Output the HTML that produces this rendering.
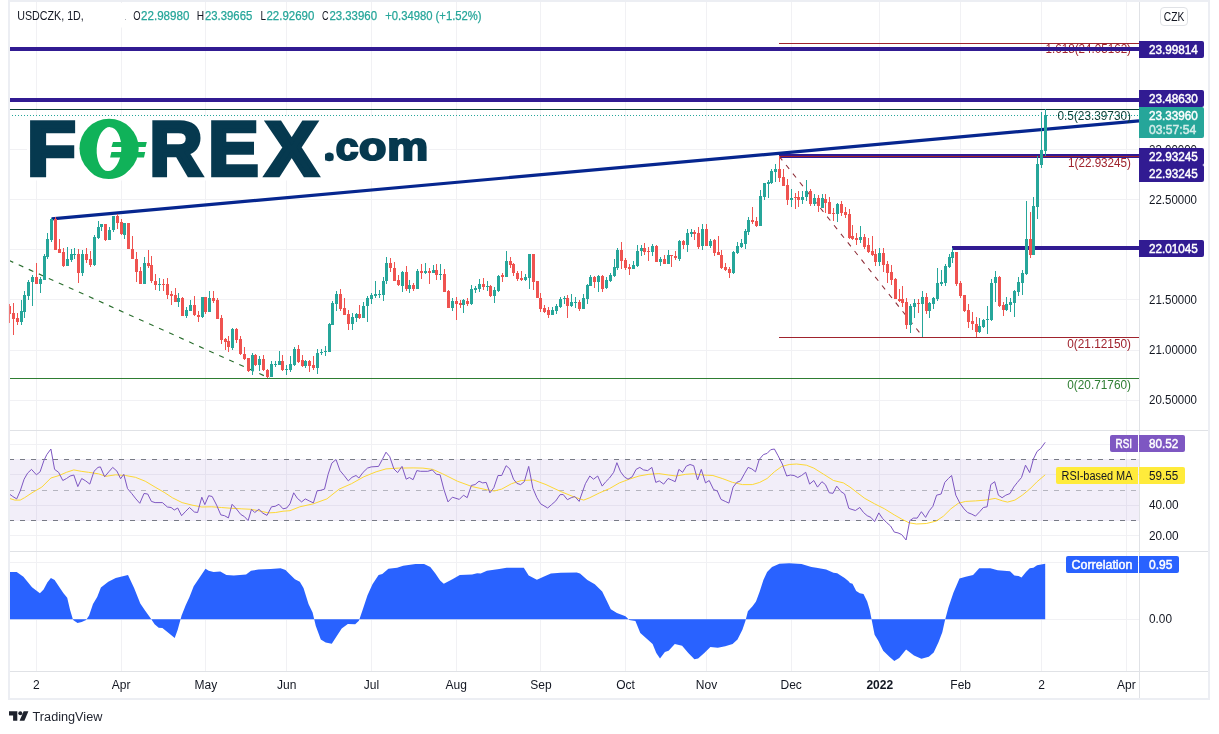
<!DOCTYPE html>
<html lang="en"><head><meta charset="utf-8"><title>USDCZK 1D chart</title>
<style>html,body{margin:0;padding:0;background:#fff}body{width:1219px;height:734px;overflow:hidden}svg{display:block;will-change:transform;opacity:0.999}text{font-family:"Liberation Sans",sans-serif}</style></head><body>
<svg width="1219" height="734" viewBox="0 0 1219 734">
<rect width="1219" height="734" fill="#fff"/>
<g shape-rendering="crispEdges" stroke="#f1f1f4" stroke-width="1">
<line x1="36.5" y1="2" x2="36.5" y2="671"/>
<line x1="121.5" y1="2" x2="121.5" y2="671"/>
<line x1="205.5" y1="2" x2="205.5" y2="671"/>
<line x1="286.5" y1="2" x2="286.5" y2="671"/>
<line x1="371.5" y1="2" x2="371.5" y2="671"/>
<line x1="456.5" y1="2" x2="456.5" y2="671"/>
<line x1="540.5" y1="2" x2="540.5" y2="671"/>
<line x1="625.5" y1="2" x2="625.5" y2="671"/>
<line x1="706.5" y1="2" x2="706.5" y2="671"/>
<line x1="791.5" y1="2" x2="791.5" y2="671"/>
<line x1="879.5" y1="2" x2="879.5" y2="671"/>
<line x1="960.5" y1="2" x2="960.5" y2="671"/>
<line x1="1041.5" y1="2" x2="1041.5" y2="671"/>
<line x1="1126.5" y1="2" x2="1126.5" y2="671"/>
<line x1="10" y1="149.5" x2="1139" y2="149.5"/>
<line x1="10" y1="199.5" x2="1139" y2="199.5"/>
<line x1="10" y1="249.5" x2="1139" y2="249.5"/>
<line x1="10" y1="299.5" x2="1139" y2="299.5"/>
<line x1="10" y1="350.5" x2="1139" y2="350.5"/>
<line x1="10" y1="400.5" x2="1139" y2="400.5"/>
<line x1="10" y1="444.5" x2="1139" y2="444.5"/>
<line x1="10" y1="474.5" x2="1139" y2="474.5"/>
<line x1="10" y1="505.5" x2="1139" y2="505.5"/>
<line x1="10" y1="535.5" x2="1139" y2="535.5"/>
<line x1="10" y1="562.5" x2="1139" y2="562.5"/>
<line x1="10" y1="619.5" x2="1139" y2="619.5"/>
</g>
<rect x="10" y="459" width="1129" height="62" fill="#7e57c2" fill-opacity="0.1"/>
<g fill="none" stroke-width="1" shape-rendering="crispEdges">
<line x1="9" y1="459.5" x2="1137" y2="459.5" stroke="#787b86" stroke-dasharray="5 6"/>
<line x1="9" y1="490.5" x2="1137" y2="490.5" stroke="#787b86" stroke-opacity="0.5" stroke-dasharray="5 6"/>
<line x1="9" y1="520.5" x2="1137" y2="520.5" stroke="#787b86" stroke-dasharray="5 6"/>
</g>
<text x="1131" y="53.3" font-size="12" fill="#a0232d" text-anchor="end" textLength="85.5" lengthAdjust="spacingAndGlyphs">1.618(24.05162)</text>
<g fill="none">
<rect x="9" y="47" width="1130" height="4" fill="#311b92"/>
<rect x="9" y="98" width="1130" height="4" fill="#311b92"/>
<rect x="779" y="154" width="360" height="4" fill="#311b92"/>
<rect x="952" y="246" width="187" height="4" fill="#311b92"/>
<rect x="779" y="43" width="360" height="1" fill="#a0232d"/>
<rect x="779" y="156" width="360" height="1" fill="#a0232d"/>
<rect x="779" y="337" width="360" height="1" fill="#a0232d"/>
<rect x="9" y="378" width="1130" height="1" fill="#2e7d32"/>
<rect x="9" y="109" width="1130" height="1" fill="#0a3d33"/>
<line x1="8.7" y1="260.3" x2="270" y2="378.4" stroke="#2a6e2e" stroke-width="1.15" stroke-dasharray="5 6"/>
<line x1="779.2" y1="156.4" x2="920.2" y2="333.4" stroke="#8c2a35" stroke-width="1.05" stroke-dasharray="5 6"/>
<line x1="51.6" y1="218.8" x2="1139" y2="120.8" stroke="#06268f" stroke-width="3.2"/>
</g>
<text x="1131" y="119.7" font-size="12" fill="#0a3d33" text-anchor="end" textLength="73.5" lengthAdjust="spacingAndGlyphs">0.5(23.39730)</text>
<text x="1131" y="167.3" font-size="12" fill="#a0232d" text-anchor="end" textLength="63" lengthAdjust="spacingAndGlyphs">1(22.93245)</text>
<text x="1131" y="348.1" font-size="12" fill="#a0232d" text-anchor="end" textLength="63.7" lengthAdjust="spacingAndGlyphs">0(21.12150)</text>
<text x="1131" y="389.1" font-size="12" fill="#2e7d32" text-anchor="end" textLength="63.7" lengthAdjust="spacingAndGlyphs">0(20.71760)</text>
<line x1="12" y1="115.5" x2="1139" y2="115.5" stroke="#26a69a" stroke-width="1" stroke-dasharray="1 2" shape-rendering="crispEdges"/>
<g shape-rendering="crispEdges">
<path fill="#26a69a" d="M21 300h1V325h-1zM20 311h3V322h-3zM24 291h1V318h-1zM23 295h3V312h-3zM28 280h1V300h-1zM27 282h3V296h-3zM32 275h1V306h-1zM31 277h3V282h-3zM40 277h1V293h-1zM39 279h3V284h-3zM44 254h1V280h-1zM43 256h3V280h-3zM47 233h1V259h-1zM46 239h3V257h-3zM51 218h1V242h-1zM50 219h3V240h-3zM67 247h1V266h-1zM66 259h3V266h-3zM71 249h1V262h-1zM70 254h3V260h-3zM74 248h1V259h-1zM73 254h3V255h-3zM82 250h1V276h-1zM81 254h3V273h-3zM94 235h1V266h-1zM93 237h3V265h-3zM98 221h1V239h-1zM97 227h3V238h-3zM101 224h1V231h-1zM100 224h3V227h-3zM109 227h1V240h-1zM108 230h3V240h-3zM113 216h1V232h-1zM112 216h3V230h-3zM124 223h1V239h-1zM123 223h3V235h-3zM144 257h1V284h-1zM143 263h3V284h-3zM159 278h1V291h-1zM158 284h3V285h-3zM178 293h1V307h-1zM177 298h3V302h-3zM186 307h1V318h-1zM185 310h3V316h-3zM190 300h1V311h-1zM189 305h3V311h-3zM202 297h1V318h-1zM201 297h3V317h-3zM209 291h1V312h-1zM208 298h3V312h-3zM232 328h1V350h-1zM231 329h3V348h-3zM252 353h1V375h-1zM251 355h3V371h-3zM259 356h1V371h-1zM258 359h3V365h-3zM271 361h1V377h-1zM270 364h3V377h-3zM275 361h1V367h-1zM274 364h3V365h-3zM279 351h1V365h-1zM278 361h3V365h-3zM286 365h1V375h-1zM285 369h3V370h-3zM290 356h1V372h-1zM289 364h3V370h-3zM294 347h1V366h-1zM293 349h3V365h-3zM305 360h1V368h-1zM304 361h3V366h-3zM317 349h1V374h-1zM316 353h3V368h-3zM321 349h1V355h-1zM320 352h3V353h-3zM325 346h1V356h-1zM324 351h3V352h-3zM329 323h1V352h-1zM328 324h3V352h-3zM332 301h1V325h-1zM331 303h3V325h-3zM336 291h1V311h-1zM335 294h3V304h-3zM352 313h1V330h-1zM351 317h3V324h-3zM356 313h1V322h-1zM355 314h3V318h-3zM363 302h1V318h-1zM362 306h3V318h-3zM367 296h1V322h-1zM366 298h3V306h-3zM371 293h1V304h-1zM370 295h3V299h-3zM375 281h1V298h-1zM374 294h3V296h-3zM379 290h1V298h-1zM378 294h3V295h-3zM383 277h1V301h-1zM382 281h3V295h-3zM386 257h1V284h-1zM385 263h3V281h-3zM402 271h1V292h-1zM401 272h3V286h-3zM409 280h1V293h-1zM408 285h3V289h-3zM417 269h1V289h-1zM416 271h3V289h-3zM425 263h1V274h-1zM424 271h3V273h-3zM433 265h1V273h-1zM432 270h3V273h-3zM440 264h1V280h-1zM439 274h3V275h-3zM452 298h1V311h-1zM451 301h3V308h-3zM463 299h1V313h-1zM462 300h3V305h-3zM471 285h1V305h-1zM470 289h3V304h-3zM475 286h1V293h-1zM474 288h3V290h-3zM479 279h1V292h-1zM478 284h3V289h-3zM487 281h1V291h-1zM486 286h3V287h-3zM494 287h1V303h-1zM493 290h3V296h-3zM498 275h1V292h-1zM497 276h3V291h-3zM506 251h1V277h-1zM505 261h3V277h-3zM525 274h1V281h-1zM524 277h3V280h-3zM529 254h1V289h-1zM528 254h3V278h-3zM552 307h1V315h-1zM551 310h3V315h-3zM556 304h1V314h-1zM555 306h3V311h-3zM560 297h1V308h-1zM559 299h3V307h-3zM564 296h1V304h-1zM563 298h3V299h-3zM571 294h1V307h-1zM570 302h3V306h-3zM575 297h1V308h-1zM574 302h3V303h-3zM583 294h1V309h-1zM582 298h3V309h-3zM587 284h1V304h-1zM586 285h3V299h-3zM590 275h1V286h-1zM589 277h3V286h-3zM598 275h1V292h-1zM597 276h3V282h-3zM606 277h1V289h-1zM605 280h3V288h-3zM610 273h1V282h-1zM609 275h3V281h-3zM614 259h1V277h-1zM613 267h3V276h-3zM617 248h1V270h-1zM616 250h3V268h-3zM633 261h1V269h-1zM632 265h3V269h-3zM637 245h1V267h-1zM636 251h3V266h-3zM641 245h1V256h-1zM640 248h3V251h-3zM652 244h1V256h-1zM651 246h3V252h-3zM660 257h1V266h-1zM659 259h3V262h-3zM668 250h1V264h-1zM667 255h3V264h-3zM679 240h1V261h-1zM678 241h3V259h-3zM687 229h1V252h-1zM686 233h3V245h-3zM691 229h1V237h-1zM690 232h3V234h-3zM702 224h1V250h-1zM701 229h3V246h-3zM710 239h1V248h-1zM709 241h3V246h-3zM733 251h1V274h-1zM732 252h3V273h-3zM737 242h1V254h-1zM736 246h3V253h-3zM741 239h1V248h-1zM740 243h3V247h-3zM745 229h1V249h-1zM744 231h3V244h-3zM748 217h1V235h-1zM747 220h3V232h-3zM760 190h1V226h-1zM759 196h3V226h-3zM764 183h1V200h-1zM763 183h3V197h-3zM768 180h1V198h-1zM767 182h3V184h-3zM771 169h1V184h-1zM770 171h3V183h-3zM775 164h1V182h-1zM774 169h3V172h-3zM791 189h1V207h-1zM790 198h3V200h-3zM802 191h1V204h-1zM801 197h3V200h-3zM806 180h1V201h-1zM805 191h3V197h-3zM814 194h1V206h-1zM813 198h3V204h-3zM822 194h1V208h-1zM821 198h3V208h-3zM837 203h1V222h-1zM836 204h3V214h-3zM860 226h1V243h-1zM859 237h3V240h-3zM879 248h1V266h-1zM878 253h3V262h-3zM910 304h1V333h-1zM909 306h3V325h-3zM914 299h1V318h-1zM913 303h3V307h-3zM922 291h1V337h-1zM921 297h3V304h-3zM929 302h1V318h-1zM928 303h3V311h-3zM933 297h1V309h-1zM932 298h3V304h-3zM937 268h1V301h-1zM936 283h3V299h-3zM941 270h1V286h-1zM940 282h3V284h-3zM945 264h1V286h-1zM944 266h3V283h-3zM949 254h1V268h-1zM948 257h3V267h-3zM952 248h1V263h-1zM951 252h3V258h-3zM979 318h1V333h-1zM978 326h3V332h-3zM983 319h1V328h-1zM982 320h3V327h-3zM987 306h1V334h-1zM986 319h3V320h-3zM991 279h1V321h-1zM990 283h3V320h-3zM995 271h1V302h-1zM994 277h3V283h-3zM1006 297h1V311h-1zM1005 304h3V310h-3zM1010 298h1V312h-1zM1009 302h3V305h-3zM1014 290h1V317h-1zM1013 291h3V303h-3zM1018 277h1V296h-1zM1017 282h3V292h-3zM1022 270h1V295h-1zM1021 273h3V283h-3zM1026 201h1V275h-1zM1025 239h3V274h-3zM1033 197h1V255h-1zM1032 206h3V255h-3zM1037 156h1V219h-1zM1036 164h3V207h-3zM1041 112h1V168h-1zM1040 150h3V165h-3zM1045 109h1V156h-1zM1044 115h3V151h-3z"/>
<path fill="#ef5350" d="M9 303h1V323h-1zM10 306h1V314h-1zM13 303h1V335h-1zM12 313h3V319h-3zM17 313h1V325h-1zM16 318h3V322h-3zM36 263h1V284h-1zM35 277h3V284h-3zM55 217h1V250h-1zM54 219h3V250h-3zM59 239h1V253h-1zM58 249h3V253h-3zM63 248h1V267h-1zM62 252h3V266h-3zM78 249h1V283h-1zM77 254h3V273h-3zM86 248h1V263h-1zM85 254h3V260h-3zM90 251h1V267h-1zM89 259h3V265h-3zM105 224h1V241h-1zM104 224h3V240h-3zM117 214h1V229h-1zM116 216h3V223h-3zM121 219h1V235h-1zM120 222h3V234h-3zM128 223h1V249h-1zM127 223h3V249h-3zM132 236h1V259h-1zM131 249h3V259h-3zM136 252h1V282h-1zM135 259h3V272h-3zM140 267h1V284h-1zM139 271h3V284h-3zM148 250h1V268h-1zM147 263h3V266h-3zM151 256h1V283h-1zM150 265h3V281h-3zM155 274h1V290h-1zM154 281h3V285h-3zM163 279h1V291h-1zM162 284h3V285h-3zM167 278h1V299h-1zM166 284h3V295h-3zM171 291h1V305h-1zM170 294h3V296h-3zM175 288h1V302h-1zM174 295h3V302h-3zM182 297h1V316h-1zM181 298h3V316h-3zM194 296h1V316h-1zM193 305h3V315h-3zM198 311h1V322h-1zM197 315h3V317h-3zM205 297h1V314h-1zM204 297h3V312h-3zM213 291h1V303h-1zM212 298h3V301h-3zM217 298h1V319h-1zM216 300h3V319h-3zM221 315h1V344h-1zM220 318h3V340h-3zM225 338h1V350h-1zM224 339h3V342h-3zM228 336h1V352h-1zM227 341h3V347h-3zM236 328h1V343h-1zM235 329h3V340h-3zM240 336h1V355h-1zM239 339h3V354h-3zM244 347h1V360h-1zM243 354h3V359h-3zM248 358h1V372h-1zM247 358h3V371h-3zM255 354h1V366h-1zM254 355h3V365h-3zM263 355h1V371h-1zM262 359h3V370h-3zM267 369h1V378h-1zM266 370h3V377h-3zM282 355h1V371h-1zM281 361h3V370h-3zM298 345h1V363h-1zM297 349h3V362h-3zM302 355h1V367h-1zM301 360h3V366h-3zM309 360h1V372h-1zM308 361h3V366h-3zM313 356h1V370h-1zM312 365h3V368h-3zM340 289h1V311h-1zM339 294h3V309h-3zM344 298h1V315h-1zM343 308h3V315h-3zM348 310h1V330h-1zM347 314h3V324h-3zM359 305h1V319h-1zM358 314h3V318h-3zM390 258h1V272h-1zM389 263h3V268h-3zM394 262h1V281h-1zM393 268h3V281h-3zM398 275h1V286h-1zM397 280h3V285h-3zM406 266h1V291h-1zM405 272h3V289h-3zM413 283h1V291h-1zM412 285h3V289h-3zM421 264h1V279h-1zM420 271h3V273h-3zM429 268h1V284h-1zM428 271h3V273h-3zM436 264h1V280h-1zM435 270h3V275h-3zM444 269h1V292h-1zM443 274h3V292h-3zM448 290h1V308h-1zM447 291h3V308h-3zM456 297h1V320h-1zM455 301h3V304h-3zM460 300h1V308h-1zM459 303h3V305h-3zM467 298h1V306h-1zM466 301h3V304h-3zM483 278h1V290h-1zM482 284h3V287h-3zM490 285h1V297h-1zM489 286h3V296h-3zM502 273h1V282h-1zM501 275h3V277h-3zM510 257h1V268h-1zM509 261h3V265h-3zM513 263h1V276h-1zM512 264h3V273h-3zM517 271h1V281h-1zM516 273h3V279h-3zM521 271h1V281h-1zM520 278h3V280h-3zM533 254h1V290h-1zM532 254h3V282h-3zM537 281h1V298h-1zM536 281h3V298h-3zM540 293h1V312h-1zM539 298h3V309h-3zM544 305h1V313h-1zM543 308h3V312h-3zM548 307h1V318h-1zM547 310h3V315h-3zM567 295h1V318h-1zM566 298h3V306h-3zM579 300h1V311h-1zM578 302h3V309h-3zM594 276h1V288h-1zM593 277h3V282h-3zM602 275h1V292h-1zM601 276h3V289h-3zM621 242h1V269h-1zM620 250h3V261h-3zM625 258h1V270h-1zM624 260h3V268h-3zM629 264h1V275h-1zM628 267h3V269h-3zM644 243h1V255h-1zM643 248h3V252h-3zM648 247h1V261h-1zM647 251h3V252h-3zM656 245h1V262h-1zM655 246h3V262h-3zM664 255h1V264h-1zM663 259h3V264h-3zM671 255h1V267h-1zM670 255h3V256h-3zM675 251h1V260h-1zM674 256h3V258h-3zM683 240h1V249h-1zM682 241h3V245h-3zM694 230h1V240h-1zM693 232h3V234h-3zM698 227h1V249h-1zM697 233h3V247h-3zM706 224h1V246h-1zM705 229h3V246h-3zM714 239h1V256h-1zM713 240h3V253h-3zM718 236h1V255h-1zM717 252h3V255h-3zM721 250h1V269h-1zM720 255h3V268h-3zM725 263h1V271h-1zM724 267h3V270h-3zM729 267h1V278h-1zM728 269h3V273h-3zM752 207h1V224h-1zM751 220h3V222h-3zM756 217h1V227h-1zM755 221h3V226h-3zM779 156h1V182h-1zM778 169h3V178h-3zM783 169h1V186h-1zM782 177h3V186h-3zM787 179h1V205h-1zM786 185h3V200h-3zM795 193h1V209h-1zM794 197h3V198h-3zM798 191h1V207h-1zM797 197h3V200h-3zM810 189h1V206h-1zM809 191h3V204h-3zM818 195h1V212h-1zM817 198h3V206h-3zM825 194h1V213h-1zM824 199h3V203h-3zM829 197h1V214h-1zM828 202h3V214h-3zM833 208h1V221h-1zM832 213h3V214h-3zM841 201h1V216h-1zM840 204h3V213h-3zM845 207h1V218h-1zM844 212h3V215h-3zM849 209h1V239h-1zM848 214h3V238h-3zM852 225h1V240h-1zM851 236h3V239h-3zM856 233h1V245h-1zM855 238h3V240h-3zM864 234h1V249h-1zM863 237h3V247h-3zM868 238h1V253h-1zM867 245h3V252h-3zM872 236h1V256h-1zM871 251h3V255h-3zM875 249h1V266h-1zM874 254h3V262h-3zM883 248h1V272h-1zM882 253h3V265h-3zM887 261h1V283h-1zM886 264h3V273h-3zM891 265h1V285h-1zM890 272h3V280h-3zM895 278h1V299h-1zM894 279h3V299h-3zM899 289h1V302h-1zM898 299h3V301h-3zM902 286h1V307h-1zM901 299h3V303h-3zM906 298h1V329h-1zM905 302h3V325h-3zM918 299h1V313h-1zM917 303h3V304h-3zM926 293h1V314h-1zM925 297h3V311h-3zM956 252h1V286h-1zM955 252h3V284h-3zM960 281h1V298h-1zM959 283h3V296h-3zM964 295h1V312h-1zM963 295h3V311h-3zM968 304h1V328h-1zM967 310h3V322h-3zM972 312h1V330h-1zM971 321h3V324h-3zM976 317h1V337h-1zM975 324h3V332h-3zM999 276h1V307h-1zM998 277h3V306h-3zM1003 302h1V316h-1zM1002 305h3V310h-3zM1030 212h1V258h-1zM1029 239h3V255h-3z"/>
</g>
<polyline fill="none" stroke="#fdd835" stroke-width="1" stroke-linejoin="round" points="9.4,498.4 14.8,500.1 20.2,500.1 24.6,497.7 32.0,492.8 41.8,487.1 50.9,478.0 59.1,475.5 66.5,472.3 73.8,469.9 81.2,471.3 88.6,472.3 98.4,473.8 105.8,476.3 115.7,474.8 125.5,475.5 135.4,477.3 145.2,481.2 155.1,487.1 164.9,492.8 172.3,497.7 182.1,502.6 192.0,505.1 201.8,507.0 211.7,506.8 221.5,507.5 231.4,508.3 241.2,508.8 251.0,509.3 260.9,511.2 268.3,512.9 275.7,512.5 283.0,511.2 290.0,510.7 299.8,506.8 313.4,503.8 326.9,498.9 339.2,489.1 351.5,483.7 363.8,476.8 376.1,471.8 386.0,468.9 398.3,468.1 413.1,467.9 422.9,468.1 432.8,469.4 442.6,473.8 457.4,481.2 472.1,486.6 486.9,489.8 494.3,491.0 501.7,489.1 511.5,483.7 521.4,480.5 533.7,480.0 546.0,484.6 560.7,491.5 573.0,496.5 580.0,498.9 583.7,500.1 589.8,497.7 599.7,492.8 609.5,488.6 619.4,482.9 629.2,479.2 639.1,476.0 648.9,474.3 658.8,473.6 668.6,475.0 676.0,476.0 685.8,474.3 693.2,473.8 703.1,475.0 712.9,475.5 722.8,478.7 732.6,482.4 742.4,484.6 752.3,484.6 759.7,482.4 767.1,478.5 774.4,471.8 781.8,466.4 789.2,464.5 796.6,464.0 806.4,465.2 813.8,468.1 823.7,474.3 833.5,480.5 843.4,482.9 850.0,487.1 857.4,492.8 864.8,498.4 874.6,503.8 884.5,508.8 894.3,514.9 901.7,519.1 909.1,522.8 916.5,524.0 926.3,523.5 936.1,521.1 943.5,516.1 950.9,508.8 958.3,503.3 965.7,501.4 975.5,500.9 985.4,500.1 995.2,498.4 1002.6,500.9 1007.5,502.1 1014.9,500.1 1022.3,495.2 1029.7,489.1 1037.1,481.7 1045.2,474.8"/>
<polyline fill="none" stroke="#7e57c2" stroke-width="1" stroke-linejoin="round" points="9.4,494.0 12.8,496.5 16.7,498.9 20.2,491.0 24.1,479.2 27.6,473.1 31.5,469.4 36.4,474.8 40.1,471.8 43.8,460.8 46.8,454.6 50.9,449.0 54.6,469.4 58.6,472.3 62.8,480.5 66.5,478.5 70.1,476.0 73.8,475.0 77.8,486.6 81.7,478.5 85.7,480.9 89.8,484.1 94.0,471.3 98.0,467.4 100.4,466.9 104.6,476.8 108.8,471.8 112.7,467.4 116.9,471.1 120.6,478.7 123.8,474.3 127.5,488.6 131.7,493.5 135.9,498.9 139.8,503.3 144.0,493.5 147.7,494.0 151.4,501.4 155.1,502.6 162.4,502.6 167.4,507.0 171.1,507.5 174.3,510.0 177.7,508.0 181.6,515.7 185.8,511.2 189.5,507.5 194.4,512.0 197.6,512.5 201.8,497.2 204.8,504.6 208.7,495.7 212.2,496.5 216.6,505.1 220.8,514.9 224.5,515.7 228.4,517.9 232.1,504.3 236.3,508.8 240.7,514.4 244.4,516.6 248.1,520.6 251.5,509.3 254.7,512.5 258.9,509.3 262.9,513.2 267.0,515.4 271.5,506.8 275.2,506.3 278.9,504.3 283.0,508.8 286.7,508.0 290.0,503.8 293.7,492.8 297.4,498.4 301.6,501.9 305.3,498.9 309.2,500.9 313.4,502.9 317.1,490.8 320.8,490.3 324.5,489.1 328.1,474.3 331.8,463.2 336.0,459.5 340.0,470.6 344.1,475.5 348.3,480.9 352.0,477.3 356.0,475.5 358.9,478.0 363.1,472.3 367.5,468.1 371.2,466.9 378.6,466.4 382.3,459.5 386.0,452.2 389.7,456.6 393.9,468.9 397.6,472.6 402.0,466.4 406.2,479.2 409.4,477.5 413.1,479.7 416.8,470.6 420.4,471.3 427.8,471.3 432.3,469.9 436.4,474.3 440.1,474.8 443.8,489.1 448.0,501.9 452.4,497.2 459.3,499.4 463.5,495.2 467.2,497.7 471.4,485.4 475.1,484.6 479.0,481.2 482.7,482.9 486.2,482.4 489.9,492.8 493.8,487.8 498.0,475.5 501.7,475.5 506.1,465.7 509.8,468.9 513.5,479.2 516.9,483.4 520.6,484.6 524.3,481.7 528.7,466.4 532.9,488.3 536.9,497.7 540.6,503.8 547.7,508.0 551.6,504.6 555.8,500.9 560.0,494.7 563.2,494.5 567.4,499.7 571.3,497.7 574.8,496.5 579.2,501.4 580.0,498.9 585.4,483.7 589.8,476.0 593.5,479.2 597.7,476.0 602.2,486.1 605.8,481.7 609.5,478.0 613.7,472.3 616.9,462.7 620.6,471.8 624.3,476.8 628.0,479.2 632.2,476.8 636.1,469.4 639.8,467.4 643.5,469.9 647.7,470.6 651.9,467.4 655.8,482.4 659.3,480.9 663.7,484.1 668.1,478.5 671.6,480.0 675.2,481.7 678.9,469.4 682.6,472.3 686.3,466.2 690.0,464.5 693.7,465.7 697.6,480.0 701.3,469.4 705.5,482.9 709.2,480.5 713.6,489.6 717.3,491.0 721.0,499.4 725.2,501.4 728.9,503.1 733.1,487.1 736.8,482.4 740.5,480.9 744.4,473.8 748.1,467.4 751.8,468.9 755.5,471.8 759.2,459.5 763.4,454.6 767.1,453.4 770.7,449.7 774.4,449.0 778.1,455.8 782.3,464.0 786.7,476.0 790.4,475.0 794.1,475.5 797.8,477.5 801.5,475.5 805.7,472.3 809.6,484.1 813.8,480.5 817.5,487.1 821.9,481.7 825.4,484.6 829.3,492.8 833.0,493.3 836.7,486.1 840.9,491.5 844.6,494.0 848.8,508.3 850.0,508.8 855.4,510.5 859.8,507.5 863.5,512.5 867.2,515.7 870.9,517.4 874.6,521.6 878.8,512.9 882.7,518.6 886.9,522.8 890.6,526.0 894.3,532.1 898.0,532.9 901.7,534.6 906.1,540.0 909.8,520.6 913.5,518.1 917.2,518.1 921.4,511.7 925.6,517.4 929.3,510.7 932.9,506.3 936.6,495.2 941.1,494.0 944.8,482.4 948.4,478.5 951.6,475.5 955.8,495.2 960.0,503.3 964.0,508.8 967.6,512.5 971.8,514.2 975.5,516.1 979.7,511.7 983.4,507.5 987.1,506.8 990.8,484.6 994.7,481.7 998.4,495.2 1002.1,497.7 1005.8,495.2 1010.0,493.5 1013.7,487.1 1017.4,482.4 1021.5,477.5 1025.5,465.2 1029.7,472.6 1033.4,459.0 1037.1,451.4 1040.7,448.5 1045.2,442.3"/>
<path fill="#2962ff" d="M9.4 619.2 L9.4 571.9 L16.7 571.9 L23.4 576.8 L32.0 587.2 L39.9 593.3 L43.6 589.6 L47.3 582.5 L50.9 578.1 L54.6 580.0 L59.1 586.7 L63.5 593.3 L67.2 597.8 L70.1 610.1 L73.1 619.9 L77.5 622.9 L81.7 621.9 L86.1 619.9 L89.1 615.5 L93.0 603.9 L97.2 597.0 L100.9 587.4 L108.3 581.8 L115.7 578.1 L121.8 576.4 L128.0 574.9 L134.1 587.9 L140.3 603.4 L145.2 610.8 L150.1 617.5 L154.6 624.3 L158.7 627.8 L162.4 628.0 L168.6 633.0 L174.7 637.9 L177.7 629.8 L181.6 615.5 L185.8 605.1 L189.5 597.0 L193.7 586.2 L198.1 579.8 L205.5 568.7 L208.7 570.7 L213.6 571.9 L220.3 571.4 L226.4 574.9 L233.8 575.6 L240.0 575.1 L246.1 574.4 L251.0 570.7 L258.4 569.5 L270.7 569.0 L280.6 568.2 L285.5 570.0 L290.0 574.4 L294.9 579.3 L299.8 581.8 L303.5 587.9 L308.5 603.9 L312.6 612.5 L315.8 626.1 L320.8 639.6 L325.7 642.6 L331.8 643.8 L336.8 635.9 L341.7 628.5 L347.8 624.1 L355.2 624.3 L358.9 620.7 L362.6 610.1 L367.5 595.3 L372.5 584.2 L378.6 574.9 L382.3 573.9 L388.4 568.7 L397.1 567.7 L403.2 565.8 L415.5 564.0 L424.1 564.0 L430.3 567.0 L435.2 573.2 L440.1 580.5 L443.8 583.7 L452.4 579.3 L459.8 574.9 L472.1 574.4 L477.1 573.2 L480.7 573.6 L486.9 570.7 L499.2 569.0 L506.6 567.7 L523.8 567.7 L528.7 575.6 L536.9 579.8 L543.5 576.8 L550.9 573.6 L560.7 572.7 L576.7 572.4 L580.0 573.6 L587.4 580.0 L594.8 584.2 L602.2 591.6 L607.1 601.5 L610.8 609.3 L616.9 613.0 L625.5 616.2 L629.2 619.9 L635.4 621.1 L640.3 633.0 L646.5 638.4 L652.6 644.0 L656.3 653.1 L660.0 658.6 L664.9 651.9 L668.6 650.7 L674.8 644.0 L682.1 645.8 L688.3 653.1 L694.4 659.3 L698.1 658.6 L704.3 653.1 L710.4 647.0 L717.8 647.7 L725.2 646.2 L732.6 644.0 L737.5 639.6 L742.4 629.8 L745.4 621.1 L747.9 611.3 L752.3 606.4 L756.0 601.5 L759.7 591.6 L763.4 580.0 L767.1 571.9 L772.0 567.0 L779.4 563.8 L789.2 563.3 L801.5 564.0 L811.4 567.0 L816.3 567.7 L826.1 569.5 L833.5 572.7 L837.2 573.2 L844.6 578.1 L848.3 581.0 L850.0 583.0 L852.5 583.7 L856.2 590.9 L859.8 593.3 L863.5 594.1 L867.2 601.5 L869.7 610.1 L872.2 622.4 L874.6 634.7 L878.3 640.8 L883.2 650.7 L889.4 656.8 L894.3 661.0 L899.2 658.1 L906.1 649.4 L914.0 655.6 L921.4 658.8 L928.8 656.8 L933.7 652.6 L938.6 642.1 L942.3 632.2 L944.8 621.1 L948.4 607.6 L953.4 592.8 L959.5 578.6 L965.7 576.8 L973.1 574.9 L979.2 568.2 L990.3 568.2 L997.7 570.2 L1010.0 571.2 L1014.4 575.6 L1018.6 576.1 L1021.5 577.6 L1026.0 571.9 L1029.7 568.2 L1033.4 567.7 L1037.1 565.3 L1045.2 563.8 L1045.2 619.2z"/>
<rect x="27" y="116.5" width="402" height="64" fill="#fff"/>
<g font-family="'Liberation Sans',sans-serif" font-weight="bold">
<text x="80" y="177.6" font-size="79.6" fill="#10b259" textLength="58" lengthAdjust="spacingAndGlyphs">O</text>
<circle cx="109.1" cy="148.4" r="29.6" fill="#10b259"/>
<ellipse cx="109" cy="149.1" rx="12.3" ry="22" fill="#fff" transform="rotate(3 109 149)"/>
<path fill="#10b259" d="M113 141.9 L146.8 141.9 L145.6 147 L111.5 147z M111.4 152 L145.2 152 L144 157.4 L110.1 157.4z"/>
<text transform="translate(26.89 175.3) scale(1.0401 1)" font-size="76.8" fill="#06394f" stroke="#06394f" stroke-width="4.36" stroke-linejoin="miter" stroke-miterlimit="8">F</text>
<text transform="translate(149.52 175.3) scale(0.9543 1)" font-size="76.8" fill="#06394f" stroke="#06394f" stroke-width="4.36" stroke-linejoin="miter" stroke-miterlimit="8">R</text>
<text transform="translate(208.27 175.3) scale(0.9827 1)" font-size="76.8" fill="#06394f" stroke="#06394f" stroke-width="4.36" stroke-linejoin="miter" stroke-miterlimit="8">E</text>
<text transform="translate(265.70 175.3) scale(1.0122 1)" font-size="76.8" fill="#06394f" stroke="#06394f" stroke-width="4.36" stroke-linejoin="miter" stroke-miterlimit="8">X</text>
<text transform="translate(322.50 160.1) scale(1.2328 1)" font-size="39.4" fill="#06394f" stroke="#06394f" stroke-width="1.0" stroke-linejoin="miter" stroke-miterlimit="8">.</text>
<circle cx="329.3" cy="156.9" r="4.4" fill="#06394f"/>
<text transform="translate(335.67 160.1) scale(1.0362 1)" font-size="39.4" fill="#06394f" stroke="#06394f" stroke-width="2.2" stroke-linejoin="miter" stroke-miterlimit="8">c</text>
<text transform="translate(359.11 160.1) scale(1.1349 1)" font-size="39.4" fill="#06394f" stroke="#06394f" stroke-width="2.2" stroke-linejoin="miter" stroke-miterlimit="8">o</text>
<text transform="translate(387.21 160.1) scale(1.1688 1)" font-size="39.4" fill="#06394f" stroke="#06394f" stroke-width="2.2" stroke-linejoin="miter" stroke-miterlimit="8">m</text>
</g>
<rect x="86" y="3" width="38.5" height="24.5" fill="#fff"/>
<text x="17.2" y="20.2" font-size="12" fill="#131722" stroke="#131722" stroke-width="0" textLength="66.6" lengthAdjust="spacingAndGlyphs">USDCZK, 1D,</text>
<text x="124.6" y="20.2" font-size="8" fill="#787b86">.</text>
<text x="133.3" y="20.2" font-size="12" fill="#131722" stroke="#131722" stroke-width="0" textLength="7.3" lengthAdjust="spacingAndGlyphs">O</text>
<text x="141" y="20.2" font-size="12" fill="#26a69a" stroke="#26a69a" stroke-width="0.25" textLength="48.4" lengthAdjust="spacingAndGlyphs">22.98980</text>
<text x="196.8" y="20.2" font-size="12" fill="#131722" stroke="#131722" stroke-width="0" textLength="7.4" lengthAdjust="spacingAndGlyphs">H</text>
<text x="205" y="20.2" font-size="12" fill="#26a69a" stroke="#26a69a" stroke-width="0.25" textLength="47.3" lengthAdjust="spacingAndGlyphs">23.39665</text>
<text x="260.5" y="20.2" font-size="12" fill="#131722" stroke="#131722" stroke-width="0" textLength="5.5" lengthAdjust="spacingAndGlyphs">L</text>
<text x="266.5" y="20.2" font-size="12" fill="#26a69a" stroke="#26a69a" stroke-width="0.25" textLength="47.8" lengthAdjust="spacingAndGlyphs">22.92690</text>
<text x="322" y="20.2" font-size="12" fill="#131722" stroke="#131722" stroke-width="0" textLength="6.6" lengthAdjust="spacingAndGlyphs">C</text>
<text x="329.4" y="20.2" font-size="12" fill="#26a69a" stroke="#26a69a" stroke-width="0.25" textLength="47.6" lengthAdjust="spacingAndGlyphs">23.33960</text>
<text x="385.2" y="20.2" font-size="12" fill="#26a69a" stroke="#26a69a" stroke-width="0.25" textLength="96.4" lengthAdjust="spacingAndGlyphs">+0.34980 (+1.52%)</text>
<rect x="1139" y="2" width="70" height="696" fill="#fff"/>
<rect x="9" y="671" width="1200" height="27" fill="#fff"/>
<rect x="1210" y="0" width="10" height="734" fill="#fff"/>
<g shape-rendering="crispEdges" stroke="#e0e2e6" stroke-width="1" fill="none">
<line x1="1139.5" y1="1" x2="1139.5" y2="698"/>
<line x1="9" y1="671.5" x2="1209" y2="671.5"/>
<line x1="9" y1="430.5" x2="1209" y2="430.5"/>
<line x1="9" y1="551.5" x2="1209" y2="551.5"/>
</g>
<rect x="9" y="1" width="1200" height="698" fill="none" stroke="#eceef3" stroke-width="2"/>
<rect x="9" y="304" width="1" height="19" fill="#ef5350" fill-opacity="0.75"/>
<text x="1149" y="154" font-size="12" fill="#131722" textLength="48" lengthAdjust="spacingAndGlyphs">23.00000</text>
<text x="1149" y="204" font-size="12" fill="#131722" textLength="48" lengthAdjust="spacingAndGlyphs">22.50000</text>
<text x="1149" y="304" font-size="12" fill="#131722" textLength="48" lengthAdjust="spacingAndGlyphs">21.50000</text>
<text x="1149" y="354" font-size="12" fill="#131722" textLength="48" lengthAdjust="spacingAndGlyphs">21.00000</text>
<text x="1149" y="404" font-size="12" fill="#131722" textLength="48" lengthAdjust="spacingAndGlyphs">20.50000</text>
<text x="1149" y="509.2" font-size="12" fill="#131722" textLength="29.5" lengthAdjust="spacingAndGlyphs">40.00</text>
<text x="1149" y="540" font-size="12" fill="#131722" textLength="29.5" lengthAdjust="spacingAndGlyphs">20.00</text>
<text x="1149" y="623" font-size="12" fill="#131722" textLength="23" lengthAdjust="spacingAndGlyphs">0.00</text>
<path fill="#311b92" d="M1139 41h63a2 2 0 0 1 2 2v13a2 2 0 0 1 -2 2h-63z"/>
<text x="1149" y="53.9" font-size="12" fill="#fff" stroke="#fff" stroke-width="0.45" textLength="48.8" lengthAdjust="spacingAndGlyphs">23.99814</text>
<path fill="#311b92" d="M1139 90h63a2 2 0 0 1 2 2v13a2 2 0 0 1 -2 2h-63z"/>
<text x="1149" y="102.9" font-size="12" fill="#fff" stroke="#fff" stroke-width="0.45" textLength="48.8" lengthAdjust="spacingAndGlyphs">23.48630</text>
<path fill="#26a69a" d="M1139 107h63a2 2 0 0 1 2 2v27a2 2 0 0 1 -2 2h-63z"/>
<text x="1149" y="120.3" font-size="12" fill="#fff" stroke="#fff" stroke-width="0.45" textLength="48.8" lengthAdjust="spacingAndGlyphs">23.33960</text>
<text x="1149" y="134.3" font-size="12" fill="#d4edea" stroke="#d4edea" stroke-width="0.45" textLength="47.2" lengthAdjust="spacingAndGlyphs">03:57:54</text>
<path fill="#311b92" d="M1139 148h63a2 2 0 0 1 2 2v13a2 2 0 0 1 -2 2h-63z"/>
<text x="1149" y="160.9" font-size="12" fill="#fff" stroke="#fff" stroke-width="0.45" textLength="48.8" lengthAdjust="spacingAndGlyphs">22.93245</text>
<path fill="#311b92" d="M1139 165h63a2 2 0 0 1 2 2v13a2 2 0 0 1 -2 2h-63z"/>
<text x="1149" y="177.9" font-size="12" fill="#fff" stroke="#fff" stroke-width="0.45" textLength="48.8" lengthAdjust="spacingAndGlyphs">22.93245</text>
<path fill="#311b92" d="M1139 240h63a2 2 0 0 1 2 2v13a2 2 0 0 1 -2 2h-63z"/>
<text x="1149" y="252.9" font-size="12" fill="#fff" stroke="#fff" stroke-width="0.45" textLength="48.8" lengthAdjust="spacingAndGlyphs">22.01045</text>
<path fill="#7e57c2" d="M1139 435h44a2 2 0 0 1 2 2v13a2 2 0 0 1 -2 2h-44z"/>
<text x="1149" y="447.7" font-size="12" fill="#fff" stroke="#fff" stroke-width="0.45" textLength="29.2" lengthAdjust="spacingAndGlyphs">80.52</text>
<path fill="#ffeb3b" d="M1139 467h44a2 2 0 0 1 2 2v13a2 2 0 0 1 -2 2h-44z"/>
<text x="1149" y="479.7" font-size="12" fill="#131722" stroke="#131722" stroke-width="0" textLength="29.2" lengthAdjust="spacingAndGlyphs">59.55</text>
<path fill="#2962ff" d="M1139 556h38a2 2 0 0 1 2 2v13a2 2 0 0 1 -2 2h-38z"/>
<text x="1149" y="568.7" font-size="12" fill="#fff" stroke="#fff" stroke-width="0.45" textLength="23.4" lengthAdjust="spacingAndGlyphs">0.95</text>
<path fill="#7e57c2" d="M1138 435h-26a2 2 0 0 0 -2 2v13a2 2 0 0 0 2 2h26z"/>
<text x="1115.5" y="447.7" font-size="12" fill="#fff" stroke="#fff" stroke-width="0.45" textLength="16.5" lengthAdjust="spacingAndGlyphs">RSI</text>
<path fill="#ffeb3b" d="M1138 467h-80a2 2 0 0 0 -2 2v13a2 2 0 0 0 2 2h80z"/>
<text x="1061.5" y="479.7" font-size="12" fill="#131722" stroke="#131722" stroke-width="0" textLength="71" lengthAdjust="spacingAndGlyphs">RSI-based MA</text>
<path fill="#2962ff" d="M1138 556h-70a2 2 0 0 0 -2 2v13a2 2 0 0 0 2 2h70z"/>
<text x="1071.5" y="568.7" font-size="12" fill="#fff" stroke="#fff" stroke-width="0.45" textLength="61" lengthAdjust="spacingAndGlyphs">Correlation</text>
<rect x="1160.5" y="7.5" width="27" height="18" rx="3.5" fill="#fff" stroke="#e0e2e6" stroke-width="1"/>
<text x="1174" y="21" font-size="12" fill="#131722" text-anchor="middle" textLength="20.5" lengthAdjust="spacingAndGlyphs">CZK</text>
<text x="36.4" y="689.2" font-size="12" fill="#131722" text-anchor="middle">2</text>
<text x="121.1" y="689.2" font-size="12" fill="#131722" text-anchor="middle">Apr</text>
<text x="205.9" y="689.2" font-size="12" fill="#131722" text-anchor="middle">May</text>
<text x="286.7" y="689.2" font-size="12" fill="#131722" text-anchor="middle">Jun</text>
<text x="371.5" y="689.2" font-size="12" fill="#131722" text-anchor="middle">Jul</text>
<text x="456.2" y="689.2" font-size="12" fill="#131722" text-anchor="middle">Aug</text>
<text x="540.9" y="689.2" font-size="12" fill="#131722" text-anchor="middle">Sep</text>
<text x="625.6" y="689.2" font-size="12" fill="#131722" text-anchor="middle">Oct</text>
<text x="706.5" y="689.2" font-size="12" fill="#131722" text-anchor="middle">Nov</text>
<text x="791.2" y="689.2" font-size="12" fill="#131722" text-anchor="middle">Dec</text>
<text x="879.8" y="689.2" font-size="12" fill="#131722" text-anchor="middle" font-weight="bold">2022</text>
<text x="960.7" y="689.2" font-size="12" fill="#131722" text-anchor="middle">Feb</text>
<text x="1041.6" y="689.2" font-size="12" fill="#131722" text-anchor="middle">2</text>
<text x="1126.3" y="689.2" font-size="12" fill="#131722" text-anchor="middle">Apr</text>
<g fill="#1e222d">
<path d="M9 711.2h8.3v9.5h-4.2v-5.3H9z"/>
<circle cx="20.3" cy="713.2" r="2"/>
<path d="M23.6 711.2h4.8l-4 9.5h-4.8z"/>
</g>
<text x="32.6" y="720.7" font-size="12.5" fill="#1e222d" textLength="69.8" lengthAdjust="spacingAndGlyphs">TradingView</text>
</svg></body></html>
